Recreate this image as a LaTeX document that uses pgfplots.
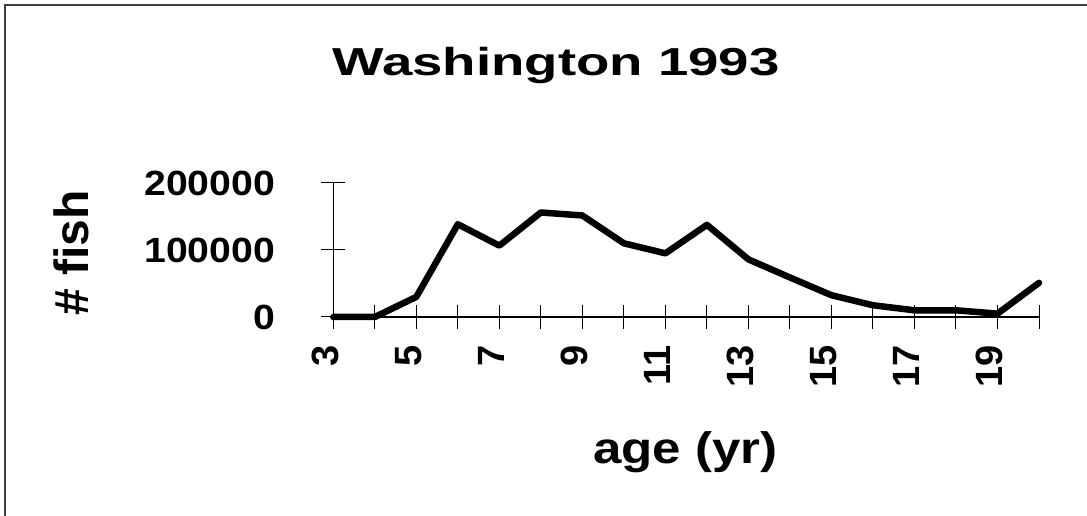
\documentclass[border=0pt]{standalone}
\usepackage{fontspec}
\setmainfont{Liberation Sans}
\newfontfamily\titlefont{Liberation Sans}[FakeStretch=1.4]
\newfontfamily\ytickfont{Liberation Sans}[FakeStretch=1.12]
\newfontfamily\xlabfont{Liberation Sans}[FakeStretch=1.16]
\usepackage{pgfplots}
\pgfplotsset{compat=1.18}
\begin{document}
\begin{tikzpicture}
\useasboundingbox (0,0) rectangle (1087bp,516bp);
\fill[white] (0,0) rectangle (1087bp,516bp);
\draw[line width=1.5bp, black!75] (5bp,0) -- (5bp,511bp) -- (1087bp,511bp);
\begin{axis}[
  at={(333.3bp,199bp)}, anchor=south west,
  scale only axis, width=705.7bp, height=134bp,
  xmin=3, xmax=20, ymin=0, ymax=200000,
  axis lines=left, axis line style={-, line width=1.2bp, black},
  xtick={3,4,...,20},
  xticklabels={3,,5,,7,,9,,11,,13,,15,,17,,19,},
  ytick={0,100000,200000},
  yticklabels={0,100000,200000},
  scaled y ticks=false,
  /pgf/number format/assume math mode=true,
  tick align=center, major tick length=24bp,
  tick style={line width=1bp, black},
  clip=false,
  yticklabel style={font=\fontsize{35bp}{40bp}\selectfont\ytickfont\bfseries, anchor=east, inner sep=0pt, xshift=-46bp},
  xticklabel style={font=\fontsize{38bp}{42bp}\selectfont\bfseries, inner sep=0pt, xshift=-8bp, yshift=-16bp, rotate=90, anchor=east},
  title={Washington 1993},
  title style={font=\fontsize{39bp}{45bp}\selectfont\titlefont\bfseries, at={(axis description cs:0.3156,1.754)}, anchor=base, inner sep=0pt},
  xlabel={age (yr)},
  xlabel style={font=\fontsize{44bp}{50bp}\selectfont\xlabfont\bfseries, at={(axis description cs:0.499,-1.0896)}, anchor=base, inner sep=0pt},
  ylabel={\# fish},
  ylabel style={font=\fontsize{48bp}{54bp}\selectfont\bfseries, at={(axis description cs:-0.3476,0.478)}, anchor=base, inner sep=0pt},
]
\addplot[black, line width=6.5bp, line join=round, line cap=round] coordinates {
(3,0) (4,0) (5,30000) (6,138500) (7,106500) (8,156000) (9,151500)
(10,110000) (11,95000) (12,137500) (13,86000) (14,59000) (15,32500)
(16,17500) (17,10000) (18,10000) (19,5000) (20,51000)
};
\end{axis}
\end{tikzpicture}
\end{document}
